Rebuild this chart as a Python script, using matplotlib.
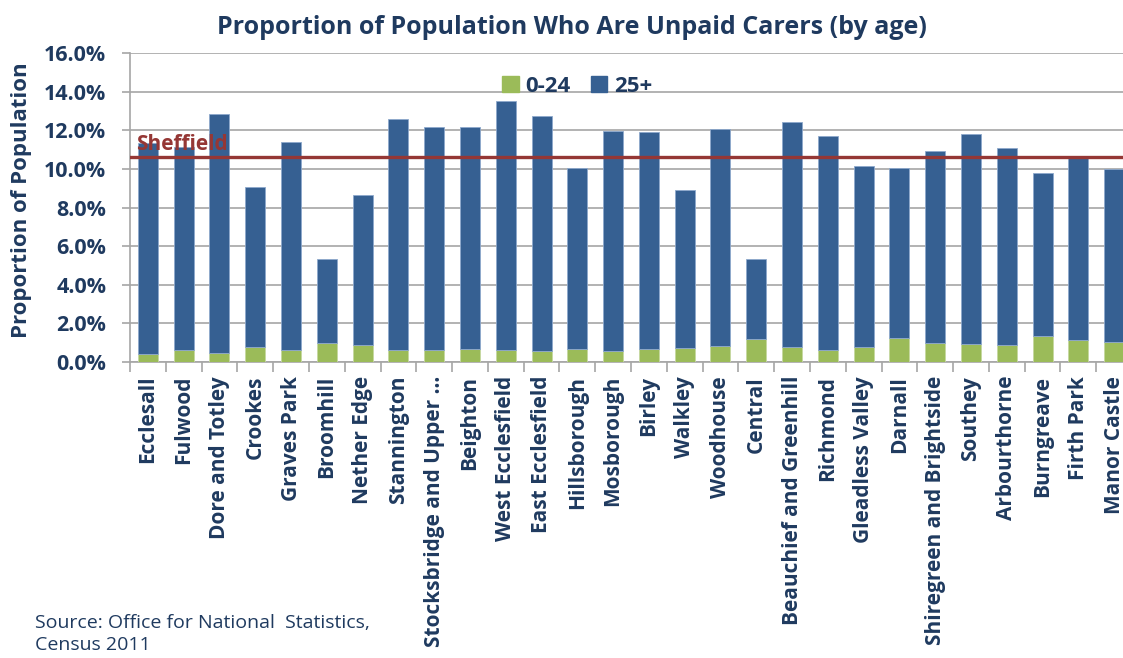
import numpy as np
import matplotlib
matplotlib.use("Agg")
import matplotlib.pyplot as plt
from matplotlib.ticker import FuncFormatter, MultipleLocator
from matplotlib.patches import Patch

plt.rcParams['font.family'] = ['Open Sans', 'DejaVu Sans']

NAVY = "#1F3A5F"
BLUE = "#366092"
GREEN = "#9BBB59"
RED = "#953735"
GRID = "#A6A6A6"

wards = ["Ecclesall", "Fulwood", "Dore and Totley", "Crookes", "Graves Park",
         "Broomhill", "Nether Edge", "Stannington", "Stocksbridge and Upper …",
         "Beighton", "West Ecclesfield", "East Ecclesfield", "Hillsborough",
         "Mosborough", "Birley", "Walkley", "Woodhouse", "Central",
         "Beauchief and Greenhill", "Richmond", "Gleadless Valley", "Darnall",
         "Shiregreen and Brightside", "Southey", "Arbourthorne", "Burngreave",
         "Firth Park", "Manor Castle"]

# total proportion of carers (%) and the 0-24 share (%)
total = [11.32, 11.15, 12.86, 9.07, 11.39, 5.34, 8.67, 12.58, 12.17, 12.19,
         13.52, 12.76, 10.07, 11.98, 11.89, 8.93, 12.08, 5.32, 12.45, 11.68,
         10.16, 10.05, 10.95, 11.82, 11.06, 9.81, 10.57, 9.98]
age_0_24 = [0.42, 0.61, 0.45, 0.76, 0.61, 0.97, 0.87, 0.61, 0.61, 0.66,
            0.61, 0.55, 0.66, 0.57, 0.69, 0.71, 0.81, 1.18, 0.76, 0.62,
            0.78, 1.23, 0.97, 0.95, 0.87, 1.33, 1.13, 1.02]
age_25_plus = [t - y for t, y in zip(total, age_0_24)]
sheffield = 10.63

W, H = 1123, 658
fig = plt.figure(figsize=(W / 100, H / 100), dpi=100)
left, right, top, bottom = 130, 1132, 53, 362
ax = fig.add_axes([left / W, 1 - bottom / H, (right - left) / W, (bottom - top) / H])

x = np.arange(len(wards))
bw = 0.56
ax.bar(x, age_0_24, bw, color=GREEN, edgecolor="#C5D8A0", linewidth=0.6, zorder=3, label="0-24")
ax.bar(x, age_25_plus, bw, bottom=age_0_24, color=BLUE, edgecolor="#8EA9CC",
       linewidth=0.6, zorder=3, label="25+")

ax.axhline(sheffield, color=RED, linewidth=2.4, zorder=4)
ax.text(-0.32, sheffield + 0.08, "Sheffield", color=RED, fontsize=15,
        fontweight="bold", ha="left", va="bottom", zorder=5)

ax.set_xlim(-0.5, len(wards) - 0.5)
ax.set_ylim(0, 16)
ax.yaxis.set_major_locator(MultipleLocator(2))
ax.yaxis.set_major_formatter(FuncFormatter(lambda v, p: f"{v:.1f}%"))
ax.grid(axis="y", color=GRID, linewidth=1.2, zorder=0)

ax.set_xticks(x)
ax.set_xticklabels(wards, rotation=90, fontsize=15, fontweight="bold", color=NAVY)
ax.set_xticks(np.arange(-0.5, len(wards), 1), minor=True)
ax.tick_params(axis="x", which="major", length=0, pad=10)
ax.tick_params(axis="x", which="minor", length=7, color=GRID, width=1.2)
ax.tick_params(axis="y", length=6, color=GRID, width=1.2, labelsize=15.5, labelcolor=NAVY, pad=11)
for lbl in ax.get_yticklabels():
    lbl.set_fontweight("bold")

for side in ["top", "right"]:
    ax.spines[side].set_visible(False)
for side in ["left", "bottom"]:
    ax.spines[side].set_color(GRID)
    ax.spines[side].set_linewidth(1.2)

ax.set_ylabel("Proportion of Population", fontsize=16, fontweight="bold", color=NAVY)
ax.yaxis.set_label_coords((32 - left) / (right - left), (362 - 200) / (bottom - top))

handles = [Patch(color=GREEN, label="0-24"), Patch(color=BLUE, label="25+")]
leg = ax.legend(handles=handles, loc="center", bbox_to_anchor=((577 - left) / (right - left), (362 - 86) / 309),
                ncol=2, frameon=False, handlelength=0.75, handleheight=0.75,
                handletextpad=0.3, columnspacing=0.9, prop={"weight": "bold", "size": 16})
for t in leg.get_texts():
    t.set_color(NAVY)

fig.text(572 / W, 1 - 27 / H, "Proportion of Population Who Are Unpaid Carers (by age)",
         ha="center", va="center", fontsize=18, fontweight="bold", color=NAVY)
fig.text(35 / W, 1 - 634 / H, "Source: Office for National  Statistics,\nCensus 2011",
         ha="left", va="center", fontsize=14, color=NAVY, linespacing=1.3)

fig.savefig("out.png", dpi=100)
